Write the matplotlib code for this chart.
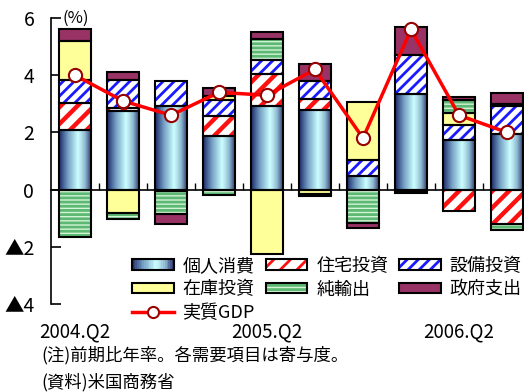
import matplotlib
matplotlib.use('Agg')
import matplotlib.pyplot as plt
import numpy as np
from matplotlib.patches import Patch, Rectangle
from matplotlib.lines import Line2D
from matplotlib.legend_handler import HandlerBase
from matplotlib.colors import LinearSegmentedColormap

plt.rcParams['font.family'] = ['Noto Sans CJK JP', 'DejaVu Sans']
plt.rcParams['hatch.linewidth'] = 2.0

# data: contributions to real GDP growth (annualised q/q, %)
quarters = ['2004.Q2', '2004.Q3', '2004.Q4', '2005.Q1', '2005.Q2',
            '2005.Q3', '2005.Q4', '2006.Q1', '2006.Q2', '2006.Q3']
consumption = [2.07, 2.74, 2.92, 1.89, 2.94, 2.77, 0.49, 3.35, 1.75, 1.95]
housing     = [0.97, 0.12, -0.05, 0.70, 1.11, 0.41, 0.0, -0.05, -0.74, -1.20]
equipment   = [0.78, 0.98, 0.88, 0.54, 0.47, 0.61, 0.53, 1.34, 0.52, 0.97]
inventory   = [1.37, -0.83, 0.0, 0.14, -2.25, -0.15, 2.04, 0.0, 0.40, 0.06]
net_exports = [-1.65, -0.21, -0.80, -0.18, 0.76, -0.08, -1.17, -0.07, 0.45, -0.20]
government  = [0.41, 0.27, -0.37, 0.28, 0.23, 0.61, -0.17, 0.99, 0.11, 0.39]
real_gdp    = [4.0, 3.1, 2.6, 3.4, 3.3, 4.2, 1.8, 5.6, 2.6, 2.0]

names = ['個人消費', '住宅投資', '設備投資', '在庫投資', '純輸出', '政府支出']
label_idx = [0, 4, 8]
yticks = [-4, -2, 0, 2, 4, 6]
ytick_labels = ['▲4', '▲2', '0', '2', '4', '6']

W, H = 524, 392
fig = plt.figure(figsize=(W / 100, H / 100), dpi=100)
ax = fig.add_axes([51 / W, 1 - 304 / H, 480 / W, 286 / H])

grad_cmap = LinearSegmentedColormap.from_list(
    'grad', [(0, '#1c2a68'), (0.25, '#6f9ac0'), (0.58, '#ccffff'), (0.8, '#8fb8d0'), (1, '#24306e')])

# (face, hatch, hatch colour, hatch linewidth)
styles = [None,
          ('white', '//', '#ff1010', 3.2),
          ('white', '///', '#1a1aff', 2.0),
          ('#ffff99', None, '#ffff99', 1.0),
          ('#d4f4d8', '----', '#5cb872', 2.0),
          ('#993366', None, '#993366', 1.0)]


def set_hlw(p, lw):
    if hasattr(p, 'set_hatch_linewidth'):
        p.set_hatch_linewidth(lw)


x = np.arange(len(quarters))
bw = 0.67
series = [consumption, housing, equipment, inventory, net_exports, government]
pos = np.zeros(len(x))
neg = np.zeros(len(x))
for k, vals in enumerate(series):
    vals = np.array(vals)
    bottom = np.where(vals >= 0, pos, neg)
    m = vals != 0
    if k == 0:
        grad = np.linspace(0, 1, 64).reshape(1, -1)
        for xi, v, b in zip(x[m], vals[m], bottom[m]):
            ax.imshow(grad, extent=[xi - bw / 2, xi + bw / 2, b, b + v],
                      aspect='auto', cmap=grad_cmap, zorder=2)
    else:
        face, hatch, hc, hlw = styles[k]
        bars = ax.bar(x[m], vals[m], bw, bottom=bottom[m], color=face, edgecolor=hc,
                      hatch=hatch, linewidth=0, zorder=2)
        for p in bars:
            set_hlw(p, hlw)
    ax.bar(x[m], vals[m], bw, bottom=bottom[m], facecolor='none',
           edgecolor='black', linewidth=1.5, zorder=3)
    pos += np.clip(vals, 0, None)
    neg += np.clip(vals, None, 0)

ax.plot(x, real_gdp, color='#ff0000', lw=2.5, marker='o', ms=9.5,
        mfc='white', mec='#990000', mew=1.5, zorder=5)

ax.set_xlim(-0.5, len(x) - 0.5)
ax.set_ylim(-4, 6)
ax.spines['top'].set_visible(False)
ax.spines['right'].set_visible(False)
ax.spines['bottom'].set_position(('data', 0))
ax.spines['left'].set_linewidth(1.2)
ax.spines['bottom'].set_linewidth(1.2)
ax.set_yticks(yticks)
ax.set_yticklabels(ytick_labels, fontsize=14)
ax.set_xticks(x[:-1] + 0.5)
ax.set_xticklabels([])
ax.tick_params(axis='y', direction='in', length=7, width=1.2, pad=12)
ax.tick_params(axis='x', direction='in', length=5, width=1.0)

ax.text(11 / 480, 1.0, '(%)', transform=ax.transAxes, fontsize=12,
        ha='left', va='center')

for i in label_idx:
    ax.annotate(quarters[i], xy=(x[i], 0), xycoords=('data', 'axes fraction'),
                xytext=(0, -28), textcoords='offset pixels',
                ha='center', va='center', fontsize=13.5)

fig.text(41 / W, 1 - 355 / H, '(注)前期比年率。各需要項目は寄与度。',
         fontsize=12.5, ha='left', va='center')
fig.text(41 / W, 1 - 382 / H, '(資料)米国商務省',
         fontsize=12.5, ha='left', va='center')


class GradientHandler(HandlerBase):
    def create_artists(self, legend, orig_handle, xdescent, ydescent,
                       width, height, fontsize, trans):
        arts = []
        n = 24
        for i in range(n):
            arts.append(Rectangle((-xdescent + width * i / n, -ydescent), width / n, height,
                                  facecolor=grad_cmap((i + 0.5) / n), edgecolor='none',
                                  transform=trans))
        arts.append(Rectangle((-xdescent, -ydescent), width, height, facecolor='none',
                              edgecolor='black', lw=1.5, transform=trans))
        return arts


grad_handle = Patch()
handles = [grad_handle]
for k in range(1, 6):
    face, hatch, hc, hlw = styles[k]
    hp = Patch(facecolor=face, edgecolor=hc, hatch=hatch, lw=0)
    set_hlw(hp, hlw)
    handles.append((hp, Patch(facecolor='none', edgecolor='black', lw=1.5)))
gdp_handle = Line2D([], [], color='#ff0000', lw=2.5, marker='o', ms=8,
                    mfc='white', mec='#990000', mew=1.5)

order_h = [handles[0], handles[3], gdp_handle, handles[1], handles[4], handles[2], handles[5]]
order_l = [names[0], names[3], '実質GDP', names[1], names[4], names[2], names[5]]
fig.legend(order_h, order_l, loc='upper left', bbox_to_anchor=(132 / W, 1 - 257 / H),
           ncol=3, frameon=False, fontsize=13, handlelength=2.3, handleheight=0.5,
           handletextpad=0.5, columnspacing=0.6, labelspacing=0.3, borderpad=0,
           borderaxespad=0, handler_map={grad_handle: GradientHandler()})

fig.savefig('out.png', dpi=100)
